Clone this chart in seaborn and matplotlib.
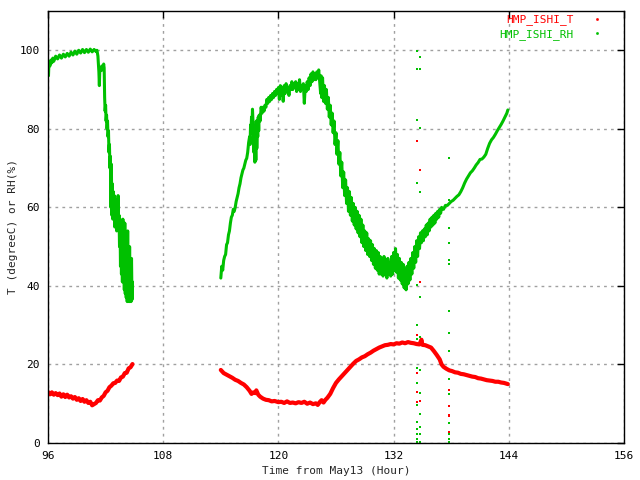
import matplotlib
matplotlib.use('Agg')
import matplotlib.pyplot as plt
import seaborn as sns
from matplotlib.lines import Line2D

# series names
t_name = 'HMP_ISHI_T'
rh_name = 'HMP_ISHI_RH'

# temperature (degreeC), first block: (hour, value)
t_seg1 = [(96.0, 13.0), (96.2, 12.4), (96.4, 12.9), (96.6, 12.3), (96.8, 12.7), (97.0, 12.2),
          (97.2, 12.6), (97.4, 11.8), (97.6, 12.4), (97.8, 11.7), (98.0, 12.3), (98.2, 11.6),
          (98.4, 11.9), (98.6, 11.3), (98.8, 11.7), (99.0, 11.0), (99.2, 11.4), (99.4, 10.7),
          (99.6, 11.2), (99.8, 10.5), (100.0, 10.9), (100.2, 10.2), (100.4, 10.5), (100.6, 9.6),
          (100.8, 9.9), (101.0, 10.2), (101.2, 10.9), (101.4, 10.8), (101.6, 11.6), (101.8, 12.0),
          (102.0, 12.9), (102.2, 13.3), (102.4, 14.2), (102.6, 14.6), (102.8, 15.2), (103.0, 15.3),
          (103.2, 15.9), (103.4, 15.8), (103.6, 16.7), (103.8, 16.9), (104.0, 17.8), (104.2, 17.9),
          (104.4, 19.0), (104.6, 19.3), (104.8, 20.1)]

# temperature, second block
t_seg2 = [(114.0, 18.6), (114.3, 17.8), (114.6, 17.4), (114.9, 17.0), (115.2, 16.6), (115.5, 16.1),
          (115.8, 15.8), (116.1, 15.3), (116.4, 14.9), (116.7, 14.2), (117.0, 13.3), (117.2, 12.5),
          (117.4, 12.9), (117.6, 12.7), (117.7, 13.4), (117.9, 12.3), (118.1, 11.8), (118.4, 11.3),
          (118.7, 11.0), (119.0, 10.9), (119.3, 10.6), (119.6, 10.7), (120.0, 10.4), (120.3, 10.5),
          (120.6, 10.2), (120.9, 10.6), (121.2, 10.2), (121.5, 10.3), (121.8, 10.1), (122.1, 10.4),
          (122.4, 10.2), (122.7, 10.5), (123.0, 10.0), (123.3, 10.3), (123.6, 9.9), (123.9, 10.1),
          (124.1, 9.7), (124.3, 10.4), (124.5, 10.9), (124.7, 10.3), (124.9, 11.0), (125.1, 11.5),
          (125.4, 12.5), (125.7, 14.0), (126.0, 15.3), (126.3, 16.2), (126.6, 17.0), (126.9, 17.8),
          (127.2, 18.6), (127.5, 19.4), (127.8, 20.2), (128.1, 20.9), (128.4, 21.3), (128.7, 21.8),
          (129.0, 22.1), (129.3, 22.6), (129.6, 23.0), (129.9, 23.5), (130.2, 23.9), (130.5, 24.3),
          (130.8, 24.6), (131.1, 24.9), (131.4, 25.0), (131.7, 25.2), (132.0, 25.1), (132.3, 25.4),
          (132.6, 25.3), (132.9, 25.6), (133.2, 25.4), (133.5, 25.7), (133.8, 25.5), (134.1, 25.4),
          (134.4, 25.2), (134.7, 25.1), (134.9, 26.3), (135.0, 25.0), (135.3, 24.9), (135.6, 24.6),
          (135.9, 24.3), (136.2, 23.4), (136.5, 22.4), (136.8, 21.3), (137.0, 20.0), (137.2, 19.4),
          (137.5, 18.9), (137.8, 18.5), (138.1, 18.3), (138.4, 18.0), (138.7, 17.9), (139.0, 17.6),
          (139.3, 17.5), (139.6, 17.3), (139.9, 17.1), (140.2, 16.9), (140.5, 16.8), (140.8, 16.5),
          (141.1, 16.4), (141.4, 16.2), (141.7, 16.0), (142.0, 15.9), (142.3, 15.8), (142.6, 15.6),
          (142.9, 15.6), (143.2, 15.4), (143.5, 15.3), (143.9, 15.0)]

# relative humidity (%), first block
rh_seg1 = [(96.0, 95.0), (96.05, 93.5), (96.1, 97.0), (96.2, 96.0), (96.3, 97.5), (96.4, 96.8),
           (96.5, 98.0), (96.6, 97.2), (96.8, 98.5), (97.0, 97.8), (97.2, 98.8), (97.4, 98.0),
           (97.6, 99.0), (97.8, 98.3), (98.0, 99.2), (98.2, 98.5), (98.4, 99.5), (98.6, 98.8),
           (98.8, 99.8), (99.0, 99.0), (99.2, 100.0), (99.4, 99.3), (99.6, 100.2), (99.8, 99.4),
           (100.0, 100.2), (100.2, 99.5), (100.4, 100.3), (100.6, 99.6), (100.8, 100.2), (101.0, 99.7),
           (101.1, 100.0), (101.2, 98.5), (101.3, 94.5), (101.35, 91.0), (101.4, 95.5), (101.5, 94.8),
           (101.6, 96.0), (101.7, 95.0), (101.8, 96.5), (101.85, 95.5), (101.9, 88.0), (101.95, 84.5),
           (102.0, 86.0), (102.05, 82.0), (102.1, 83.5), (102.15, 80.0), (102.2, 82.0), (102.25, 78.0),
           (102.3, 79.5), (102.35, 74.0), (102.4, 76.0), (102.45, 70.0), (102.5, 73.0), (102.55, 60.0),
           (102.6, 71.0), (102.65, 58.0), (102.7, 66.0), (102.75, 57.0), (102.8, 64.0), (102.85, 58.0),
           (102.9, 63.0), (102.95, 55.0), (103.0, 62.0), (103.05, 56.0), (103.1, 60.0), (103.15, 54.0),
           (103.2, 61.0), (103.25, 55.0), (103.3, 63.0), (103.35, 54.0), (103.4, 58.0), (103.45, 50.0),
           (103.5, 57.0), (103.55, 45.0), (103.6, 55.0), (103.65, 43.0), (103.7, 52.0), (103.75, 41.0),
           (103.8, 57.0), (103.85, 42.0), (103.9, 50.0), (103.95, 39.0), (104.0, 56.0), (104.05, 38.0),
           (104.1, 52.0), (104.15, 37.0), (104.2, 53.0), (104.25, 36.0), (104.3, 54.0), (104.35, 38.0),
           (104.4, 48.0), (104.45, 36.0), (104.5, 50.0), (104.55, 37.0), (104.6, 46.0), (104.65, 36.0),
           (104.7, 47.0), (104.75, 36.5), (104.8, 41.0)]

# relative humidity, second block
rh_seg2 = [(114.0, 42.0), (114.1, 45.0), (114.2, 44.0), (114.3, 46.5), (114.4, 47.5), (114.5, 48.0),
           (114.6, 50.5), (114.7, 51.0), (114.8, 53.0), (114.9, 54.0), (115.0, 56.0), (115.1, 57.5),
           (115.2, 58.0), (115.3, 59.5), (115.4, 59.0), (115.5, 60.0), (115.6, 61.5), (115.7, 62.5),
           (115.8, 63.5), (115.9, 65.0), (116.0, 66.0), (116.1, 67.5), (116.2, 68.5), (116.3, 69.5),
           (116.4, 70.0), (116.5, 71.0), (116.6, 72.0), (116.7, 72.5), (116.8, 74.0), (116.9, 76.5),
           (117.0, 78.0), (117.05, 76.0), (117.1, 81.0), (117.15, 79.0), (117.2, 83.0), (117.25, 80.5),
           (117.3, 85.0), (117.35, 82.0), (117.4, 78.0), (117.45, 74.0), (117.5, 77.0), (117.55, 71.5),
           (117.6, 79.0), (117.65, 72.0), (117.7, 82.0), (117.75, 75.0), (117.8, 80.0), (117.85, 78.0),
           (117.9, 83.0), (117.95, 79.5), (118.0, 83.5), (118.1, 82.0), (118.2, 85.5), (118.3, 84.0),
           (118.4, 85.5), (118.5, 84.5), (118.6, 86.0), (118.7, 85.5), (118.8, 87.5), (118.9, 86.5),
           (119.0, 88.0), (119.1, 87.0), (119.2, 88.5), (119.3, 87.5), (119.4, 89.0), (119.5, 88.0),
           (119.6, 89.5), (119.7, 88.5), (119.8, 90.0), (119.9, 89.0), (120.0, 90.5), (120.1, 87.5),
           (120.2, 91.0), (120.3, 88.5), (120.4, 90.5), (120.5, 87.0), (120.6, 91.0), (120.7, 89.0),
           (120.8, 91.5), (120.9, 89.5), (121.0, 90.5), (121.1, 88.5), (121.2, 91.0), (121.3, 90.0),
           (121.4, 92.0), (121.5, 90.0), (121.6, 91.5), (121.7, 90.5), (121.8, 92.0), (121.9, 89.5),
           (122.0, 91.5), (122.1, 90.0), (122.2, 92.5), (122.3, 89.5), (122.4, 91.0), (122.5, 90.5),
           (122.6, 91.5), (122.7, 86.5), (122.8, 91.0), (122.9, 89.5), (123.0, 92.0), (123.1, 90.0),
           (123.2, 93.0), (123.3, 91.0), (123.4, 94.0), (123.5, 92.0), (123.6, 94.5), (123.7, 92.5),
           (123.8, 94.0), (123.9, 92.5), (124.0, 94.5), (124.1, 93.0), (124.2, 95.0), (124.3, 92.0),
           (124.4, 89.0), (124.45, 93.5), (124.5, 88.0), (124.6, 93.0), (124.7, 87.0), (124.8, 91.0),
           (124.9, 86.5), (125.0, 90.0), (125.1, 85.0), (125.2, 88.0), (125.3, 83.0), (125.4, 86.0),
           (125.5, 81.0), (125.6, 84.0), (125.7, 79.0), (125.8, 82.0), (125.9, 76.0), (126.0, 79.0),
           (126.1, 73.5), (126.2, 77.0), (126.3, 71.0), (126.4, 74.0), (126.5, 68.0), (126.6, 71.5),
           (126.7, 65.0), (126.8, 69.0), (126.9, 63.0), (127.0, 67.0), (127.1, 61.0), (127.2, 65.0),
           (127.3, 59.0), (127.4, 64.0), (127.5, 58.0), (127.6, 62.5), (127.7, 56.5), (127.8, 61.0),
           (127.9, 55.5), (128.0, 60.0), (128.1, 54.5), (128.2, 59.0), (128.3, 53.5), (128.4, 58.0),
           (128.5, 52.5), (128.6, 57.0), (128.7, 51.0), (128.8, 55.5), (128.9, 50.0), (129.0, 54.0),
           (129.1, 49.0), (129.2, 53.5), (129.3, 48.0), (129.4, 52.0), (129.5, 47.5), (129.6, 51.5),
           (129.7, 46.5), (129.8, 50.5), (129.9, 45.5), (130.0, 49.5), (130.1, 44.5), (130.2, 49.0),
           (130.3, 44.0), (130.4, 48.5), (130.5, 43.0), (130.6, 47.5), (130.7, 43.0), (130.8, 47.0),
           (130.9, 42.5), (131.0, 47.5), (131.1, 43.0), (131.2, 46.5), (131.3, 42.0), (131.4, 47.0),
           (131.5, 43.0), (131.6, 46.0), (131.7, 42.5), (131.8, 47.5), (131.9, 43.0), (132.0, 48.5),
           (132.1, 44.0), (132.2, 49.5), (132.3, 43.5), (132.4, 48.0), (132.5, 42.0), (132.6, 47.0),
           (132.7, 41.5), (132.8, 46.0), (132.9, 40.5), (133.0, 45.5), (133.1, 39.5), (133.2, 44.0),
           (133.3, 39.0), (133.4, 45.0), (133.5, 40.5), (133.6, 46.0), (133.7, 41.5), (133.8, 47.0),
           (133.9, 43.0), (134.0, 48.5), (134.1, 44.5), (134.2, 50.0), (134.3, 46.0), (134.4, 51.5),
           (134.5, 47.5), (134.6, 52.5), (134.7, 49.5), (134.8, 53.5), (134.9, 51.0), (135.0, 54.0),
           (135.1, 51.5), (135.2, 54.5), (135.3, 52.5), (135.4, 55.5), (135.5, 53.0), (135.6, 56.0),
           (135.7, 54.0), (135.8, 57.0), (135.9, 55.0), (136.0, 57.5), (136.1, 55.5), (136.2, 58.0),
           (136.3, 56.0), (136.4, 58.5), (136.5, 57.0), (136.6, 59.0), (136.7, 57.5), (136.8, 59.5),
           (136.9, 58.5), (137.0, 60.0), (137.2, 59.5), (137.4, 60.5), (137.6, 60.5), (137.8, 61.0),
           (138.0, 61.5), (138.2, 61.8), (138.4, 62.3), (138.6, 62.8), (138.8, 63.2), (139.0, 64.0),
           (139.2, 65.0), (139.4, 66.2), (139.6, 67.2), (139.8, 68.0), (140.0, 68.8), (140.2, 69.3),
           (140.4, 70.0), (140.6, 70.8), (140.8, 71.4), (141.0, 72.2), (141.2, 72.3), (141.4, 72.8),
           (141.6, 73.5), (141.8, 75.0), (142.0, 76.3), (142.2, 77.2), (142.4, 77.8), (142.6, 78.6),
           (142.8, 79.5), (143.0, 80.3), (143.2, 81.1), (143.4, 82.0), (143.6, 83.0), (143.8, 84.0),
           (143.9, 84.8)]

# stray single readings around 134.5h and 137.8h
t_stray = [(134.47, 76.8), (134.47, 27.4), (134.47, 17.7), (134.47, 13.1), (134.47, 10.5),
           (134.78, 69.5), (134.78, 41.0), (134.78, 10.7),
           (137.80, 13.6), (137.80, 9.4), (137.80, 7.2), (137.80, 6.8), (137.80, 2.9)]
rh_stray = [(134.47, 99.7), (134.47, 95.3), (134.47, 82.2), (134.47, 66.2), (134.47, 40.3),
            (134.47, 30.1), (134.47, 26.5), (134.47, 19.0), (134.47, 15.2), (134.47, 9.8),
            (134.47, 5.4), (134.47, 3.5), (134.47, 2.2), (134.47, 1.0), (134.47, 0.3),
            (134.78, 98.4), (134.78, 95.3), (134.78, 80.1), (134.78, 63.9), (134.78, 37.3),
            (134.78, 27.0), (134.78, 18.5), (134.78, 12.8), (134.78, 7.5), (134.78, 4.1),
            (134.78, 2.4), (134.78, 0.3),
            (137.80, 72.5), (137.80, 61.9), (137.80, 54.7), (137.80, 50.9), (137.80, 46.5),
            (137.80, 45.5), (137.80, 33.6), (137.80, 28.1), (137.80, 23.4), (137.80, 16.2),
            (137.80, 12.6), (137.80, 5.0), (137.80, 2.3), (137.80, 0.9), (137.80, 0.3)]

x_ticks = [96, 108, 120, 132, 144, 156]
y_ticks = [0, 20, 40, 60, 80, 100]

red = '#ff0000'
green = '#00c000'

plt.style.use('default')
sns.set_style('white')
plt.rcParams['font.family'] = ['DejaVu Sans Mono']
plt.rcParams['font.size'] = 8

fig = plt.figure(figsize=(6.4, 4.8), dpi=100, facecolor='white')
ax = fig.add_axes([48 / 640, 37 / 480, 576 / 640, 432 / 480])


def xy(seg):
    return [p[0] for p in seg], [p[1] for p in seg]


for seg in (t_seg1, t_seg2):
    hx, vy = xy(seg)
    sns.lineplot(x=hx, y=vy, ax=ax, color=red, linewidth=3.0, sort=False, estimator=None)
for seg in (rh_seg1, rh_seg2):
    hx, vy = xy(seg)
    sns.lineplot(x=hx, y=vy, ax=ax, color=green, linewidth=2.2, sort=False, estimator=None)

hx, vy = xy(rh_stray)
sns.scatterplot(x=hx, y=vy, ax=ax, color=green, marker='s', s=2, linewidth=0)
hx, vy = xy(t_stray)
sns.scatterplot(x=hx, y=vy, ax=ax, color=red, marker='s', s=2, linewidth=0)

ax.set_xlim(96, 156)
ax.set_ylim(0, 110)
ax.set_xticks(x_ticks)
ax.set_yticks(y_ticks)
ax.grid(True, color='#a0a0a0', linestyle=(0, (2, 3)), linewidth=1)
ax.tick_params(direction='in', length=5, width=1, top=True, right=True,
               labelsize=8, pad=6, colors='black')
for s in ax.spines.values():
    s.set_color('black')
    s.set_linewidth(1)

ax.set_xlabel('Time from May13 (Hour)', fontsize=8, labelpad=3)
ax.set_ylabel('T (degreeC) or RH(%)', fontsize=8, labelpad=1)

handles = [Line2D([], [], color=red, marker='s', markersize=0.9, linestyle='none', label=t_name),
           Line2D([], [], color=green, marker='s', markersize=0.9, linestyle='none', label=rh_name)]
ax.legend(handles=handles, loc='upper right', bbox_to_anchor=(1 - 17 / 576, 1 + 1 / 432),
          markerfirst=False, frameon=False, labelcolor='linecolor', handlelength=1.0,
          handletextpad=1.6, labelspacing=0.3, borderaxespad=0, fontsize=8)

plt.savefig('out.png', dpi=100, facecolor='white')
